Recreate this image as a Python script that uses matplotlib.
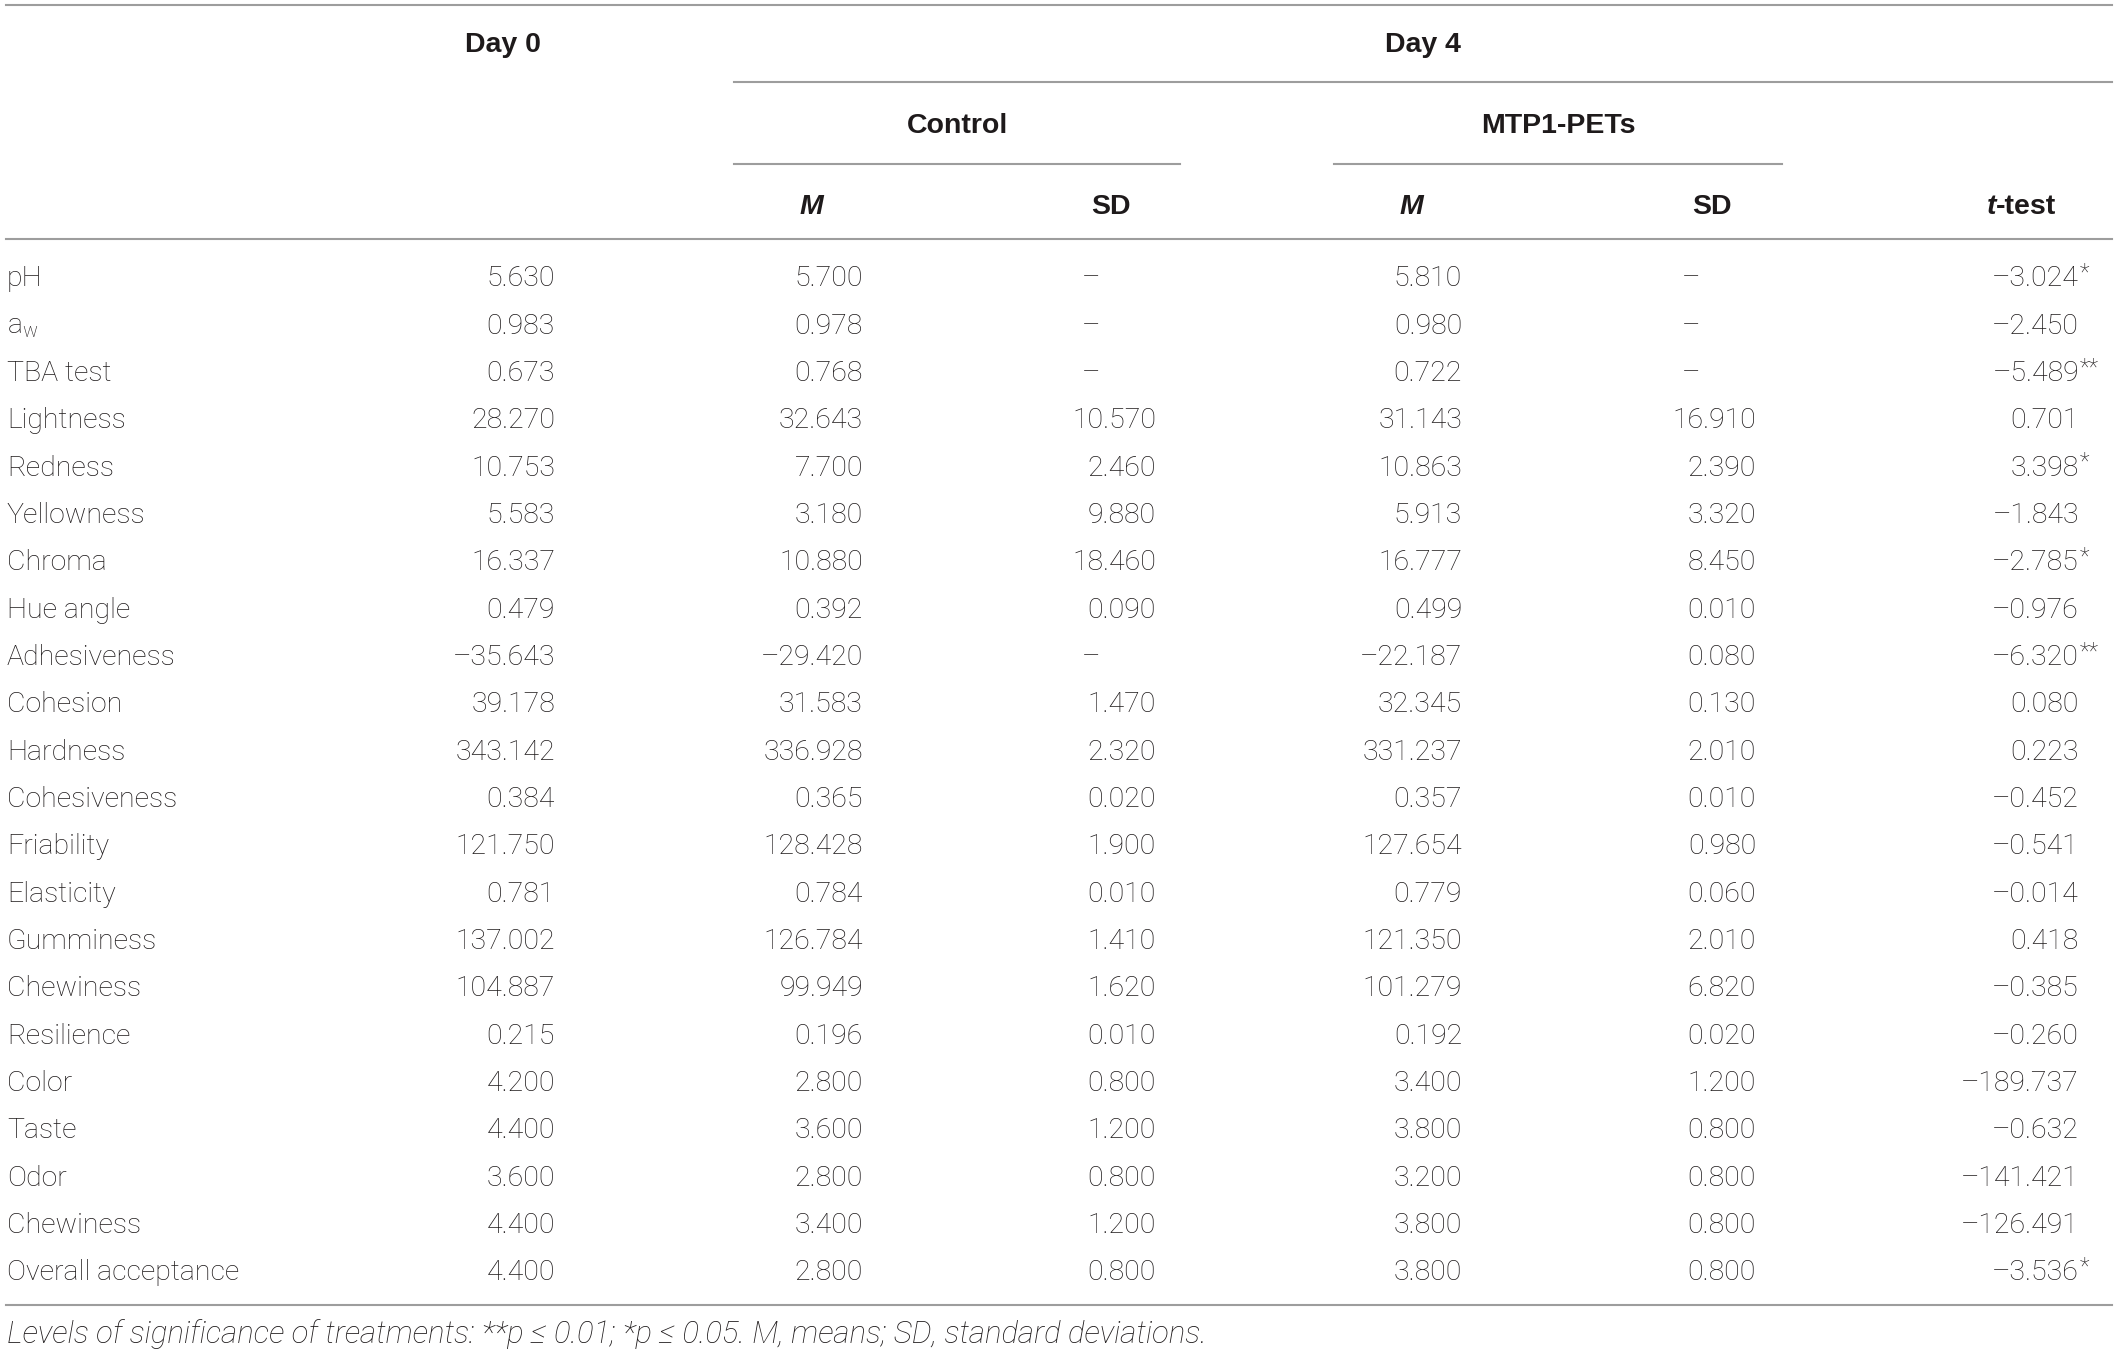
import matplotlib
matplotlib.use("Agg")
import matplotlib.pyplot as plt

plt.rcParams['font.family'] = ['Liberation Sans', 'DejaVu Sans']
plt.rcParams['mathtext.fontset'] = 'custom'
plt.rcParams['mathtext.rm'] = 'Roboto:light'
plt.rcParams['mathtext.it'] = 'Roboto:italic:light'
plt.rcParams['mathtext.bf'] = 'Liberation Sans:bold'

# ---------------- data ----------------
row_labels = ["pH", "a$_{\\mathrm{w}}$", "TBA test", "Lightness", "Redness", "Yellowness",
              "Chroma", "Hue angle", "Adhesiveness", "Cohesion", "Hardness",
              "Cohesiveness", "Friability", "Elasticity", "Gumminess", "Chewiness",
              "Resilience", "Color", "Taste", "Odor", "Chewiness", "Overall acceptance"]
day0 = [5.630, 0.983, 0.673, 28.270, 10.753, 5.583, 16.337, 0.479, -35.643, 39.178,
        343.142, 0.384, 121.750, 0.781, 137.002, 104.887, 0.215, 4.200, 4.400, 3.600,
        4.400, 4.400]
control_m = [5.700, 0.978, 0.768, 32.643, 7.700, 3.180, 10.880, 0.392, -29.420, 31.583,
             336.928, 0.365, 128.428, 0.784, 126.784, 99.949, 0.196, 2.800, 3.600, 2.800,
             3.400, 2.800]
control_sd = [None, None, None, 10.570, 2.460, 9.880, 18.460, 0.090, None, 1.470,
              2.320, 0.020, 1.900, 0.010, 1.410, 1.620, 0.010, 0.800, 1.200, 0.800,
              1.200, 0.800]
mtp_m = [5.810, 0.980, 0.722, 31.143, 10.863, 5.913, 16.777, 0.499, -22.187, 32.345,
         331.237, 0.357, 127.654, 0.779, 121.350, 101.279, 0.192, 3.400, 3.800, 3.200,
         3.800, 3.800]
mtp_sd = [None, None, None, 16.910, 2.390, 3.320, 8.450, 0.010, 0.080, 0.130,
          2.010, 0.010, 0.980, 0.060, 2.010, 6.820, 0.020, 1.200, 0.800, 0.800,
          0.800, 0.800]
t_test = [-3.024, -2.450, -5.489, 0.701, 3.398, -1.843, -2.785, -0.976, -6.320, 0.080,
          0.223, -0.452, -0.541, -0.014, 0.418, -0.385, -0.260, -189.737, -0.632,
          -141.421, -126.491, -3.536]
t_sig = ["*", "", "**", "", "*", "", "*", "", "**", "", "", "", "", "", "", "", "",
         "", "", "", "", "*"]
footnote = ("Levels of significance of treatments: **p \u2264 0.01; *p \u2264 0.05. "
            "M, means; SD, standard deviations.")

# ---------------- layout ----------------
W, H = 2118, 1353
fig = plt.figure(figsize=(W / 100, H / 100), dpi=100)
ax = fig.add_axes([0, 0, 1, 1])
ax.set_xlim(0, W)
ax.set_ylim(H, 0)
ax.axis('off')

TXT = '#1e1a1b'
LINE = '#9d9d9d'
FS = 20.5
LW = 1.5
BODY = ['Roboto', 'DejaVu Sans']

def fmt(v):
    s = f"{abs(v):.3f}"
    return ("\u2013" + s) if v < 0 else s

# horizontal rules
ax.plot([6, 2112], [5, 5], color=LINE, lw=LW)
ax.plot([734, 2112], [82, 82], color=LINE, lw=LW)
ax.plot([734, 1180], [164, 164], color=LINE, lw=LW)
ax.plot([1334, 1782], [164, 164], color=LINE, lw=LW)
ax.plot([6, 2112], [239, 239], color=LINE, lw=LW)
ax.plot([6, 2112], [1305, 1305], color=LINE, lw=LW)

# headers
hkw = dict(fontsize=FS, color=TXT, fontweight='bold', ha='center', va='center')
hy0, hy1, hy2 = 45, 126, 207
ax.text(503, hy0, "Day 0", **hkw)
ax.text(1423, hy0, "Day 4", **hkw)
ax.text(957, hy1, "Control", **hkw)
ax.text(1558, hy1, "MTP1-PETs", **hkw)
ax.text(811, hy2, "M", style='italic', **hkw)
ax.text(1111, hy2, "SD", **hkw)
ax.text(1411, hy2, "M", style='italic', **hkw)
ax.text(1712, hy2, "SD", **hkw)
ax.text(1996, hy2, "t", fontsize=FS, color=TXT, fontweight='bold', style='italic',
        ha='right', va='center')
ax.text(1996, hy2, "-test", fontsize=FS, color=TXT, fontweight='bold',
        ha='left', va='center')

# body
y0, dy = 279, 47.33
col_right = [555, 863, 1156, 1462, 1756]
cols = [day0, control_m, control_sd, mtp_m, mtp_sd]
t_right = 2079
bkw = dict(fontsize=FS, color=TXT, va='center', family=BODY, fontweight='light')
for i, lab in enumerate(row_labels):
    y = y0 + i * dy
    ax.text(7, y, lab, ha='left', **bkw)
    for xr, col in zip(col_right, cols):
        v = col[i]
        if v is None:
            ax.text(xr - 65, y, "\u2013", ha='center', **bkw)
        else:
            ax.text(xr, y, fmt(v), ha='right', **bkw)
    ax.text(t_right, y, fmt(t_test[i]), ha='right', **bkw)
    if t_sig[i]:
        ax.text(t_right + 1, y - 6, t_sig[i], ha='left', va='center',
                fontsize=FS * 0.8, color=TXT, family=BODY, fontweight='light')

ax.text(7, 1334, footnote, ha='left', va='center', fontsize=FS * 1.095,
        style='italic', color=TXT, family=BODY, fontweight='light')

fig.savefig("out.png", dpi=100)
